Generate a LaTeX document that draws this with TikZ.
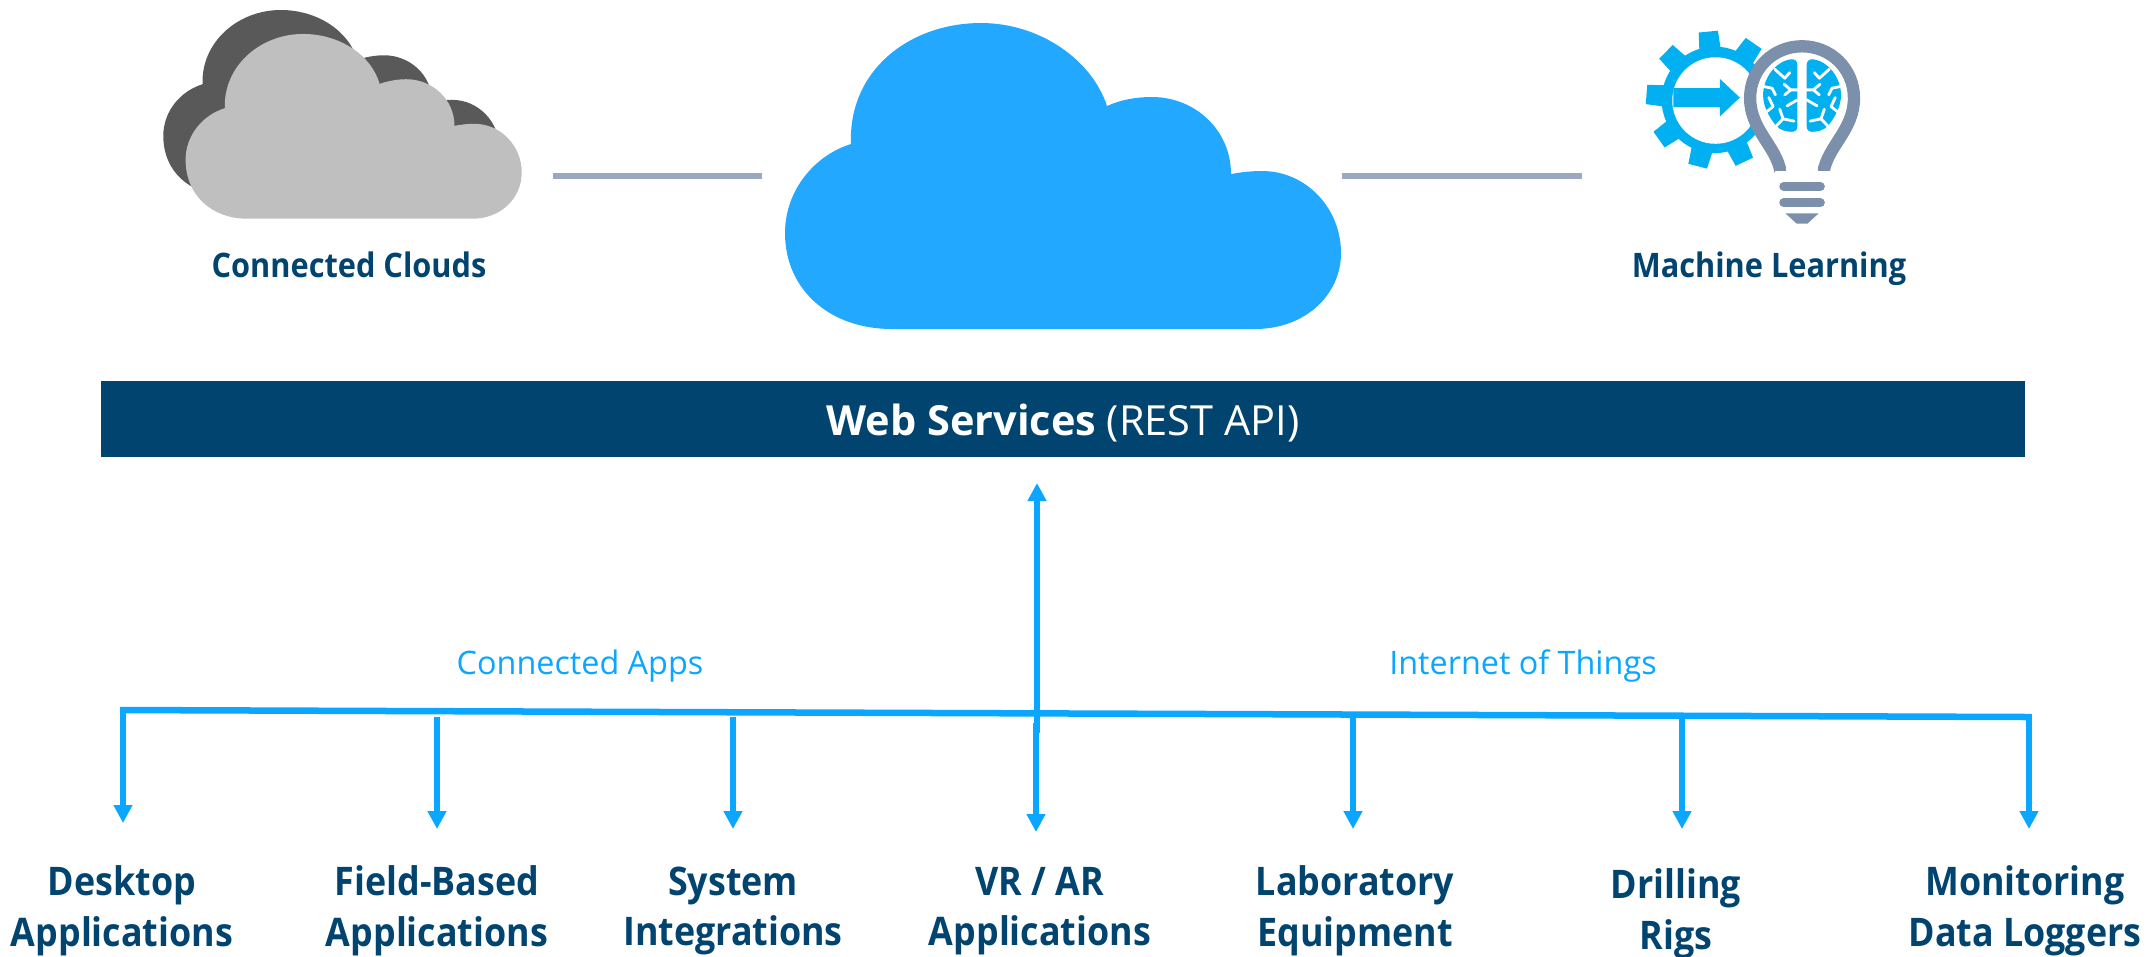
\documentclass[tikz,border=0pt]{standalone}
\usepackage{fontspec}
\setmainfont{Open Sans}
\newfontfamily\labfont[FakeStretch=0.91]{Open Sans}
\usetikzlibrary{arrows.meta}
\definecolor{navy}{HTML}{00446F}
\definecolor{skyb}{HTML}{0AA6FF}
\definecolor{cloudb}{HTML}{22A9FF}
\definecolor{linegrey}{HTML}{9AA8C0}
\definecolor{gearb}{HTML}{00B0F0}
\definecolor{bulbg}{HTML}{7C8FAB}
\newcommand{\pxfont}[1]{\fontsize{#1}{#1}\selectfont}
\tikzset{
  x=0.01cm,y=-0.01cm,
  bluearrow/.style={draw=skyb,line width=0.065cm,-{Triangle[length=0.18cm,width=0.18cm]}},
  blueline/.style={draw=skyb,line width=0.065cm},
  greyline/.style={draw=linegrey,line width=0.055cm},
  lab/.style={text=navy,font=\labfont\bfseries\fontsize{11.2pt}{14.4pt}\selectfont,align=center,inner sep=0pt},
  smalllab/.style={text=navy,font=\labfont\bfseries\pxfont{9.6pt},inner sep=0pt},
  applab/.style={text=skyb,font=\pxfont{9.2pt},inner sep=0pt},
  crack/.style={draw=white,line width=0.028cm,line cap=round,line join=round},
  bulbbar/.style={draw=bulbg,line width=0.09cm,line cap=round},
}
\newcommand{\greycloud}{(320,657) .. controls (220,657) and (137,590) .. (137,480) .. controls (137,405) and (190,345) .. (255,325) .. controls (250,200) and (360,102) .. (490,102) .. controls (600,102) and (695,165) .. (720,252) .. controls (745,243) and (775,238) .. (800,238) .. controls (880,238) and (945,300) .. (945,378) .. controls (965,374) and (985,372) .. (1005,372) .. controls (1085,372) and (1147,440) .. (1147,517) .. controls (1147,600) and (1080,657) .. (1000,657) -- cycle}
\begin{document}
\begin{tikzpicture}
\useasboundingbox (0,0) rectangle (2151,956);
% grey clouds
\begin{scope}[shift={(140,0)},x=0.003333cm,y=-0.003333cm]
  \fill[fill=black!65,shift={(-67,-72)}] \greycloud;
  \fill[fill=black!25] \greycloud;
\end{scope}
% main cloud
\fill[cloudb] (892,329) .. controls (830,329) and (785,290) .. (785,233) .. controls (785,190) and (815,155) .. (851,144) .. controls (848,70) and (910,23) .. (981,23) .. controls (1040,23) and (1092,60) .. (1107,106) .. controls (1120,100) and (1135,97) .. (1152,97) .. controls (1195,97) and (1231,130) .. (1231,174) .. controls (1242,172) and (1252,171) .. (1262,171) .. controls (1306,171) and (1341,208) .. (1341,253) .. controls (1341,295) and (1305,329) .. (1255,329) -- cycle;
% machine learning icon
\begin{scope}[shift={(1620,0)},x=0.003333cm,y=-0.003333cm]
  \fill[gearb] (285,300) circle [radius=160];
  \foreach \a in {15.5,55.5,95.5,135.5,175.5,215.5,255.5,295.5,335.5}{
    \fill[gearb] ({285+208*cos(\a+8)},{300-208*sin(\a+8)}) -- ({285+208*cos(\a-8)},{300-208*sin(\a-8)}) -- ({285+150*cos(\a-12.5)},{300-150*sin(\a-12.5)}) -- ({285+150*cos(\a+12.5)},{300-150*sin(\a+12.5)}) -- cycle;
  }
  \fill[white] (287,302) circle [radius=130];
  \fill[gearb] (160,265) -- (300,265) -- (300,237) -- (360,293) -- (300,350) -- (300,322) -- (160,322) -- cycle;
  \filldraw[fill=white,draw=bulbg,line width=0.123cm]
    (482,515) .. controls (470,440) and (391,390) .. (391,295) .. controls (391,205) and (462,139) .. (547,139) .. controls (632,139) and (703,205) .. (703,295) .. controls (703,390) and (624,440) .. (612,515);
  \fill[white] (465,500) rectangle (630,530);
  \fill[bulbg] (465,500) -- (500,500) -- (500,515) -- (465,515) -- cycle;
  \fill[bulbg] (595,500) -- (630,500) -- (630,515) -- (595,515) -- cycle;
  \draw[bulbbar] (492,560) -- (602,560);
  \draw[bulbbar] (492,609) -- (602,609);
  \fill[bulbg] (497,641) -- (597,641) -- (563,672) -- (531,672) -- cycle;
  \foreach \s in {1,-1}{
    \begin{scope}[shift={(547,0)},xscale=\s]
      \fill[gearb] (-14,195) .. controls (-14,183) and (-22,177) .. (-34,178) .. controls (-80,185) and (-117,235) .. (-117,285) .. controls (-117,320) and (-100,350) .. (-78,378) .. controls (-65,392) and (-45,396) .. (-30,396) .. controls (-20,396) and (-14,390) .. (-14,380) -- cycle;
      \draw[crack] (-82,208) -- (-52,235) -- (-37,218);
      \draw[crack] (-54,253) -- (-34,270) -- (0,270);
      \draw[crack] (-34,270) -- (-52,285);
      \draw[crack] (-115,260) -- (-90,265) -- (-80,285);
      \draw[crack] (-100,293) -- (-87,320) -- (-112,340);
      \draw[crack] (-14,300) -- (-45,318);
      \draw[crack] (-67,328) -- (-57,357) -- (-77,378);
      \draw[crack] (-57,357) -- (-24,364);
    \end{scope}
  }
\end{scope}
% connecting grey lines
\coordinate (gl1) at (553,176); \coordinate (gl2) at (762,176);
\coordinate (gr1) at (1342,176); \coordinate (gr2) at (1582,176);
\draw[greyline] (gl1) -- (gl2);
\draw[greyline] (gr1) -- (gr2);
\node[smalllab] (ccl) at (349,265) {Connected Clouds};
\node[smalllab] (ml) at (1769,269) {Machine Learning};
% band
\node[fill=navy,minimum width=19.22cm,minimum height=0.76cm,inner sep=0pt,text=white,font=\pxfont{11.8pt}] (web) at (1063,419) {\raisebox{-0.16cm}[0pt][0pt]{\textbf{Web Services} (REST API)}};
% bus
\coordinate (hl) at (120,710); \coordinate (hr) at (2031,717);
\coordinate (hmid) at (1037,733);
\coordinate (topt) at (1037,483);
\draw[blueline] (hl) -- (hr);
\draw[bluearrow] (hmid) -- (topt);
\foreach \n/\xa/\ya/\yb in {a/123/709/823,b/437/717/829,c/733/717/829,d/1036/723/832,e/1353/714/829,f/1682/714/829,g/2029/714/829}{
  \coordinate (s\n) at (\xa,\ya);
  \coordinate (t\n) at (\xa,\yb);
  \draw[bluearrow] (s\n) -- (t\n);
}
\node[applab] (capps) at (580,666) {Connected Apps};
\node[applab] (iot) at (1523,666) {Internet of Things};
\node[lab] (l1) at (122,911) {Desktop\\Applications};
\node[lab] (l2) at (437,911) {Field-Based\\Applications};
\node[lab] (l3) at (733,911) {System\\Integrations};
\node[lab] (l4) at (1040,911) {VR / AR\\Applications};
\node[lab] (l5) at (1355,911) {Laboratory\\Equipment};
\node[lab] (l6) at (1676,914) {Drilling\\Rigs};
\node[lab] (l7) at (2025,911) {Monitoring\\Data Loggers};
\end{tikzpicture}
\end{document}
